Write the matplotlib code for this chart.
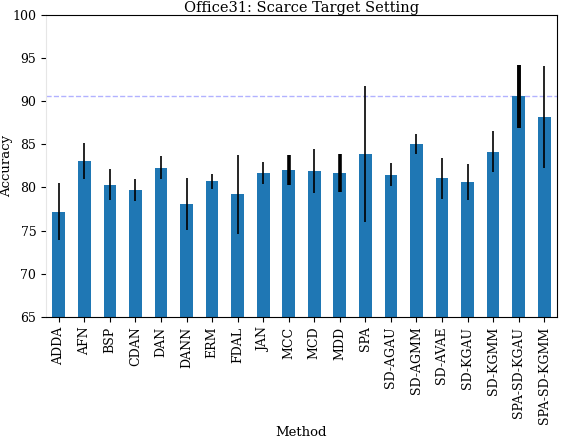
import matplotlib
matplotlib.use("Agg")
import matplotlib.pyplot as plt
import numpy as np

methods = ["ADDA", "AFN", "BSP", "CDAN", "DAN", "DANN", "ERM", "FDAL", "JAN",
           "MCC", "MCD", "MDD", "SPA", "SD-AGAU", "SD-AGMM", "SD-AVAE",
           "SD-KGAU", "SD-KGMM", "SPA-SD-KGAU", "SPA-SD-KGMM"]
accuracy = [77.2, 83.1, 80.3, 79.7, 82.3, 78.1, 80.7, 79.2, 81.7,
            82.0, 81.9, 81.7, 83.9, 81.5, 85.05, 81.05, 80.65, 84.15, 90.55, 88.15]
error = [3.35, 2.1, 1.8, 1.3, 1.35, 3.05, 0.85, 4.6, 1.3,
         1.75, 2.5, 2.2, 7.9, 1.3, 1.15, 2.35, 2.1, 2.4, 3.65, 5.95]
# thicker bars in the source come from several overlapping error lines
err_width = [1.2, 1.2, 1.2, 1.2, 1.2, 1.2, 1.2, 1.2, 1.2,
             2.6, 1.2, 2.6, 1.2, 1.2, 1.2, 1.2, 1.2, 1.2, 2.8, 1.2]

plt.rcParams["font.family"] = "DejaVu Serif"
plt.rcParams["font.size"] = 9

fig, ax = plt.subplots(figsize=(5.62, 4.4), dpi=100)
fig.subplots_adjust(left=0.082, right=0.991, top=0.966, bottom=0.280)

x = np.arange(len(methods))
ax.bar(x, accuracy, width=0.5, color="#1f77b4", zorder=2)
for xi, v, e, lw in zip(x, accuracy, error, err_width):
    ax.errorbar(xi, v, yerr=e, fmt="none", ecolor="black", elinewidth=lw,
                capsize=0, zorder=3)

ax.axhline(max(accuracy), color="blue", linestyle="--", linewidth=1,
           alpha=0.3, zorder=1)

ax.set_xlim(-0.5, len(methods) - 0.5)
ax.set_ylim(65, 100)
ax.set_xticks(x)
ax.set_xticklabels(methods, rotation=90)
ax.set_yticks([65, 70, 75, 80, 85, 90, 95, 100])
ax.spines["left"].set_color("#e6e6e6")

ax.set_title("Office31: Scarce Target Setting", fontsize=10.5, pad=2)
ax.set_xlabel("Method", fontsize=9.5)
ax.set_ylabel("Accuracy", fontsize=9.5)
ax.xaxis.set_label_coords(0.5, -0.362)
ax.yaxis.set_label_coords(-0.064, 0.5)

fig.savefig("out.png", dpi=100)
